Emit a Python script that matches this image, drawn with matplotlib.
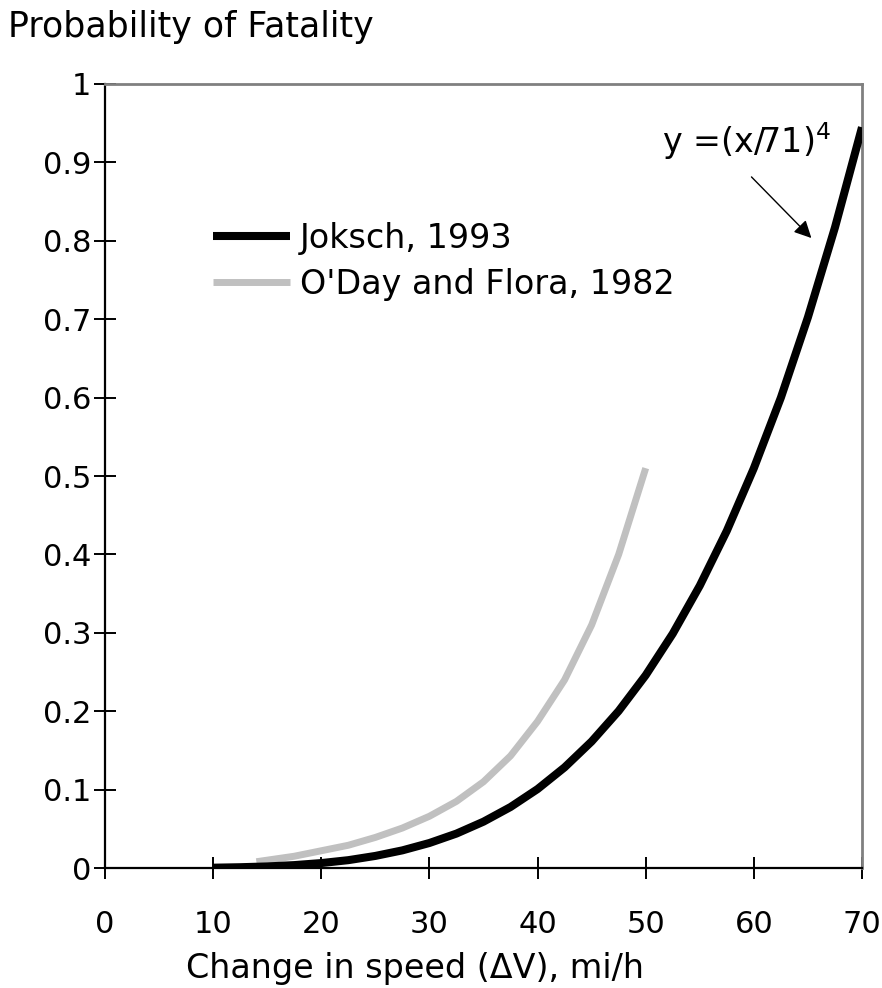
import matplotlib
matplotlib.use("Agg")
import matplotlib.pyplot as plt

# values
speed_joksch = [10, 12.5, 15, 17.5, 20, 22.5, 25, 27.5, 30, 32.5, 35, 37.5, 40,
                42.5, 45, 47.5, 50, 52.5, 55, 57.5, 60, 62.5, 65, 67.5, 70]
fatal_joksch = [0.0004, 0.001, 0.002, 0.0037, 0.0063, 0.010, 0.0154, 0.0225, 0.0319,
                0.0439, 0.0591, 0.0778, 0.1007, 0.1284, 0.1614, 0.2003, 0.2459,
                0.2989, 0.3601, 0.4301, 0.510, 0.600, 0.7025, 0.817, 0.9448]

speed_oday = [14, 17.5, 20, 22.5, 25, 27.5, 30, 32.5, 35, 37.5, 40, 42.5, 45, 47.5, 50]
fatal_oday = [0.008, 0.015, 0.022, 0.029, 0.039, 0.051, 0.066, 0.085, 0.110, 0.143,
              0.187, 0.240, 0.310, 0.400, 0.510]

x_ticks = [0, 10, 20, 30, 40, 50, 60, 70]
y_ticks = [0, 0.1, 0.2, 0.3, 0.4, 0.5, 0.6, 0.7, 0.8, 0.9, 1]
y_tick_labels = ["0", "0.1", "0.2", "0.3", "0.4", "0.5", "0.6", "0.7", "0.8", "0.9", "1"]

plt.rcParams["font.family"] = ["DejaVu Sans"]
plt.rcParams["mathtext.default"] = "regular"

W, H = 882, 988
fig = plt.figure(figsize=(W / 100, H / 100), dpi=100)
ax = fig.add_axes([105 / W, 1 - 868 / H, (862 - 105) / W, (868 - 84) / H])

ax.plot(speed_joksch, fatal_joksch, color="black", lw=5.8, solid_capstyle="butt",
        label="Joksch, 1993", zorder=3)
ax.plot(speed_oday, fatal_oday, color="#c0c0c0", lw=5.0, solid_capstyle="butt",
        label="O'Day and Flora, 1982", zorder=2)

ax.set_xlim(0, 70)
ax.set_ylim(0, 1)
ax.set_xticks(x_ticks)
ax.set_xticklabels([str(v) for v in x_ticks])
ax.set_yticks(y_ticks)
ax.set_yticklabels(y_tick_labels)

for side in ["left", "bottom"]:
    ax.spines[side].set_color("black")
    ax.spines[side].set_linewidth(1.6)
for side in ["top", "right"]:
    ax.spines[side].set_color("#808080")
    ax.spines[side].set_linewidth(2.0)

ax.tick_params(axis="both", direction="inout", length=16, width=1.4, labelsize=22, colors="black")
ax.tick_params(axis="x", pad=22)
ax.tick_params(axis="y", pad=2)

leg = ax.legend(loc="center left", bbox_to_anchor=(0.1427, 0.774), frameon=False,
                fontsize=24, handlelength=2.3, handletextpad=0.3, labelspacing=0.4,
                borderpad=0, borderaxespad=0)
leg.get_lines()[0].set_linewidth(5.8)
leg.get_lines()[1].set_linewidth(5.0)

ax.annotate("", xy=(65.5, 0.801), xytext=(59.6, 0.884),
            arrowprops=dict(arrowstyle="-|>", color="black", lw=1.0, mutation_scale=26))
ax.text(59.3, 0.912, "y =(x/71)$^4$", fontsize=24, ha="center", va="baseline")

fig.text(8 / W, 1 - 37 / H, "Probability of Fatality", fontsize=25, ha="left", va="baseline")
fig.text(415 / W, 1 - 978 / H, "Change in speed (ΔV), mi/h", fontsize=24, ha="center", va="baseline")

fig.savefig("out.png", dpi=100, facecolor="white")
